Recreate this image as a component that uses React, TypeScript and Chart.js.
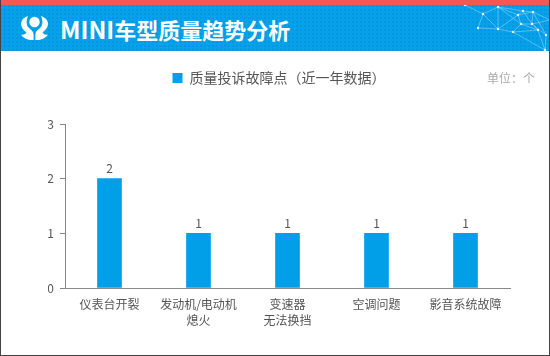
import React, { useEffect, useRef } from "react";
import { Chart, registerables } from "chart.js";

Chart.register(...registerables);

const categories: (string | string[])[] = [
  "仪表台开裂",
  ["发动机/电动机", "熄火"],
  ["变速器", "无法换挡"],
  "空调问题",
  "影音系统故障",
];
const complaintPoints = [2, 1, 1, 1, 1];
const seriesName = "质量投诉故障点（近一年数据）";
const yTicks = [0, 1, 2, 3];
const titleLatin = "MINI";
const titleCjk = "车型质量趋势分析";
const unitLabel = "单位：个";

const FONT = '"Noto Sans CJK SC", "Noto Sans", sans-serif';
const TEXT = "#555555";
const BLUE = "#009fe8";

const netNodes = [
  [85, 5], [118, 7], [103, 14], [153, 12], [138, 15], [143, 11], [118, 29], [141, 24], [152, 24], [133, 32], [158, 30], [98, 28], [166, 35], [165, 50], [170, 20],
];
const netLinks = [
  [0, 2], [1, 2], [2, 6], [1, 6], [1, 4], [4, 6], [4, 5], [5, 3], [3, 8], [4, 7], [7, 8], [7, 9], [6, 9], [9, 10], [8, 12], [8, 10], [7, 10], [10, 13], [2, 11], [11, 6], [1, 5], [3, 12], [5, 8], [9, 13], [3, 14], [8, 14], [12, 13], [1, 7], [4, 3],
];

const valueLabels = {
  id: "valueLabels",
  afterDatasetsDraw(chart: Chart) {
    const { ctx } = chart;
    const meta = chart.getDatasetMeta(0);
    ctx.save();
    ctx.font = `12px ${FONT}`;
    ctx.fillStyle = TEXT;
    ctx.textAlign = "center";
    ctx.textBaseline = "middle";
    meta.data.forEach((el: any, i: number) => {
      ctx.fillText(String(complaintPoints[i]), el.x, el.y - 10);
    });
    ctx.restore();
  },
};

const legendGap = {
  id: "legendGap",
  beforeInit(chart: any) {
    const originalFit = chart.legend.fit;
    chart.legend.fit = function fit() {
      originalFit.call(this);
      this.height += 29;
    };
  },
};

export default function App() {
  const ref = useRef<HTMLCanvasElement>(null);

  useEffect(() => {
    document.body.style.margin = "0";
    const chart = new Chart(ref.current!, {
      type: "bar",
      data: {
        labels: categories as any,
        datasets: [
          {
            label: seriesName,
            data: complaintPoints,
            backgroundColor: BLUE,
            borderWidth: 0,
            barThickness: 24,
          },
        ],
      },
      options: {
        responsive: false,
        animation: false,
        layout: { padding: { top: 33, right: 40, left: 48, bottom: 0 } },
        plugins: {
          tooltip: { enabled: false },
          title: { display: false },
          legend: {
            display: true,
            position: "top",
            align: "center",
            labels: {
              boxWidth: 10,
              boxHeight: 10,
              color: TEXT,
              font: { family: FONT, size: 14 },
              padding: 38,
            },
            onClick: () => {},
          },
        },
        scales: {
          x: {
            grid: { display: false, drawTicks: false },
            border: { color: "#888888", width: 1 },
            ticks: {
              color: TEXT,
              font: { family: FONT, size: 12, lineHeight: 1.35 },
              padding: 8,
              maxRotation: 0,
              autoSkip: false,
            },
            afterFit(scale: any) {
              scale.height = 68;
            },
          },
          y: {
            min: 0,
            max: 3,
            grid: { drawOnChartArea: false, drawTicks: true, tickLength: 5, color: "#888888" },
            border: { color: "#888888", width: 1 },
            afterBuildTicks(scale: any) {
              scale.ticks = yTicks.map((value) => ({ value }));
            },
            ticks: {
              color: TEXT,
              font: { family: FONT, size: 12 },
              padding: 6,
            },
            afterFit(scale: any) {
              scale.width = 17;
            },
          },
        },
      },
      plugins: [legendGap, valueLabels],
    } as any);
    return () => chart.destroy();
  }, []);

  return (
    <div
      style={{
        position: "relative",
        width: 550,
        height: 356,
        background: "#fff",
        overflow: "hidden",
        fontFamily: FONT,
      }}
    >
      <canvas ref={ref} width={550} height={356} style={{ position: "absolute", left: 0, top: 0, display: "block" }} />
      <div style={{ position: "absolute", left: 0, top: 0, width: 550, height: 5, background: "#ee5a55" }} />
      <div
        style={{
          position: "absolute",
          left: 0,
          top: 5,
          width: 550,
          height: 46,
          backgroundColor: "#05a2ea",
          backgroundImage:
            "radial-gradient(circle at 1px 1px, rgba(0,130,215,0.35) 1px, transparent 1.2px)",
          backgroundSize: "4px 4px",
        }}
      >
        <svg width={170} height={46} viewBox="0 5 170 46" style={{ position: "absolute", left: 380, top: 0 }}>
          {netLinks.map(([a, b], i) => (
            <line
              key={i}
              x1={netNodes[a][0]}
              y1={netNodes[a][1]}
              x2={netNodes[b][0]}
              y2={netNodes[b][1]}
              stroke="rgba(190,230,250,0.55)"
              strokeWidth={0.8}
            />
          ))}
          {netNodes.map(([x, y], i) => (
            <circle key={i} cx={x} cy={y} r={1.2} fill="rgba(235,250,255,0.95)" />
          ))}
        </svg>
        <svg width={27} height={25} viewBox="0 0 27 25" style={{ position: "absolute", left: 21, top: 11 }}>
          <circle cx={13.5} cy={6} r={5.2} fill="#fff" />
          <path d="M7 0 C5 5 5 9 8 12 C10 14 12.6 15 12.6 19 L12.6 24 C8 24.5 3 23 0 18.5 C2 19 4 18.6 5.5 16.5 C2 14 -1 10 0.3 6 C1 3 4 1 7 0Z" fill="#fff" />
          <path d="M7 0 C5 5 5 9 8 12 C10 14 12.6 15 12.6 19 L12.6 24 C8 24.5 3 23 0 18.5 C2 19 4 18.6 5.5 16.5 C2 14 -1 10 0.3 6 C1 3 4 1 7 0Z" fill="#fff" transform="translate(27 0) scale(-1 1)" />
        </svg>
        <div
          style={{
            position: "absolute",
            left: 60,
            top: 6,
            height: 36,
            lineHeight: "36px",
            color: "#fff",
            fontSize: 22,
            fontWeight: 700,
            whiteSpace: "nowrap",
          }}
        >
          <span style={{ fontSize: 24 }}>{titleLatin}</span>
          {titleCjk}
        </div>
      </div>
      <div
        style={{
          position: "absolute",
          left: 487,
          top: 68,
          fontSize: 12,
          lineHeight: "20px",
          color: "#aaaaaa",
          whiteSpace: "nowrap",
        }}
      >
        {unitLabel}
      </div>
      <div
        style={{
          position: "absolute",
          inset: 0,
          boxSizing: "border-box",
          borderLeft: "1px solid #444",
          borderRight: "1px solid #444",
          borderBottom: "1px solid #444",
          pointerEvents: "none",
        }}
      />
    </div>
  );
}
